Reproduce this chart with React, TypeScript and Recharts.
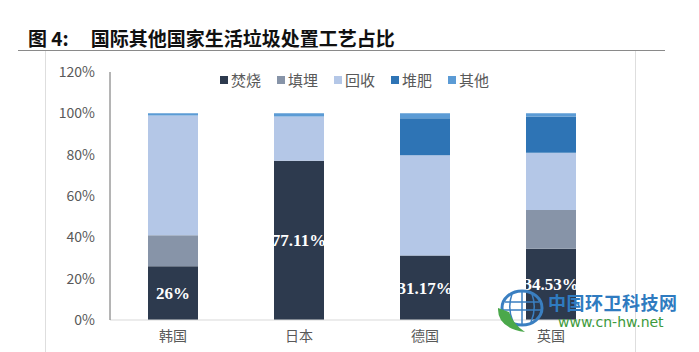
import { BarChart, Bar, XAxis, YAxis, LabelList } from "recharts";

const countries = ["韩国", "日本", "德国", "英国"];
const incineration = [26, 77.11, 31.17, 34.53];
const landfill = [15, 0, 0, 18.7];
const recycling = [58, 21.4, 48.6, 27.7];
const compost = [0, 0, 17.8, 17.5];
const other = [1, 1.49, 2.43, 1.57];
const yTicks = [0, 20, 40, 60, 80, 100, 120];

const series = [
  { key: "焚烧", values: incineration, color: "#2D3A4E" },
  { key: "填埋", values: landfill, color: "#8794A8" },
  { key: "回收", values: recycling, color: "#B4C7E7" },
  { key: "堆肥", values: compost, color: "#2E74B5" },
  { key: "其他", values: other, color: "#5B9BD5" },
];

const data = countries.map((name, i) => {
  const row: Record<string, string | number> = { name };
  series.forEach(s => { row[s.key] = s.values[i]; });
  return row;
});

const sans = "'Noto Sans CJK SC', 'Noto Sans', sans-serif";

export default function App() {
  return (
    <div style={{ position: "absolute", left: 0, top: 0, width: 699, height: 352, background: "#fff", overflow: "hidden", fontFamily: sans }}>
      {/* title */}
      <div style={{ position: "absolute", left: 28, top: 27, fontSize: 19, fontWeight: 700, color: "#111", whiteSpace: "nowrap", lineHeight: "22px" }}>
        <span>图 4:</span>
        <span style={{ marginLeft: 22 }}>国际其他国家生活垃圾处置工艺占比</span>
      </div>
      {/* frame lines */}
      <div style={{ position: "absolute", left: 18, top: 50, width: 647, height: 1, background: "#8a8a8a" }} />
      <div style={{ position: "absolute", left: 45, top: 51, width: 1, height: 301, background: "#dedede" }} />
      <div style={{ position: "absolute", left: 635, top: 51, width: 1, height: 301, background: "#dedede" }} />

      <div style={{ position: "absolute", left: 0, top: 0 }}>
        <BarChart width={699} height={352} data={data} margin={{ top: 72, right: 85, bottom: 0, left: 50 }}>
          <XAxis
            dataKey="name"
            axisLine={{ stroke: "#d9d9d9" }}
            tickLine={false}
            tickSize={0}
            tickMargin={11}
            height={32}
            tick={{ fontSize: 14, fill: "#595959", fontFamily: sans }}
          />
          <YAxis
            domain={[0, 120]}
            ticks={yTicks}
            width={60}
            axisLine={{ stroke: "#6b6b6b" }}
            tickLine={false}
            tickSize={0}
            tickMargin={15}
            tickFormatter={v => `${v}%`}
            tick={{ fontSize: 14, fill: "#595959", fontFamily: sans }}
          />
          {series.map(s => (
            <Bar key={s.key} dataKey={s.key} stackId="a" fill={s.color} barSize={50} isAnimationActive={false}>
              {s.key === "焚烧" && (
                <LabelList
                  dataKey={s.key}
                  position="center"
                  formatter={(v: unknown) => `${v}%`}
                  style={{ fill: "#fff", fontSize: 17, fontWeight: 700, fontFamily: "'Liberation Serif', 'Times New Roman', serif" }}
                />
              )}
            </Bar>
          ))}
        </BarChart>
      </div>

      {/* legend */}
      <div style={{ position: "absolute", left: 220, top: 70, display: "flex", fontSize: 15, color: "#595959", lineHeight: "20px" }}>
        {series.map(s => (
          <div key={s.key} style={{ display: "flex", alignItems: "center", marginRight: 16 }}>
            <span style={{ width: 8, height: 8, background: s.color, marginRight: 3, display: "inline-block" }} />
            <span>{s.key}</span>
          </div>
        ))}
      </div>

      {/* watermark */}
      <svg style={{ position: "absolute", left: 495, top: 288 }} width={56} height={48}>
        <ellipse cx={27} cy={20} rx={20} ry={17} fill="none" stroke="#3A7FC1" strokeWidth={3} />
        <path d="M10 14 L44 14 M8 22 L46 22 M27 4 L27 36 M17 6 Q12 20 18 34 M37 6 Q42 20 36 34" stroke="#3A7FC1" strokeWidth={1.5} fill="none" />
        <path d="M3 20 Q2 40 30 44 Q18 36 14 24 Z" fill="#4BA84B" />
      </svg>
      <div style={{ position: "absolute", left: 548, top: 291, fontSize: 18, fontWeight: 700, color: "#2F7BC0", letterSpacing: 0.5, whiteSpace: "nowrap", lineHeight: "22px" }}>
        中国环卫科技网
      </div>
      <div style={{ position: "absolute", left: 558, top: 313, fontSize: 14, color: "#3C9A3C", whiteSpace: "nowrap", lineHeight: "18px", fontFamily: "'DejaVu Sans', sans-serif" }}>
        www.cn-hw.net
      </div>
    </div>
  );
}
